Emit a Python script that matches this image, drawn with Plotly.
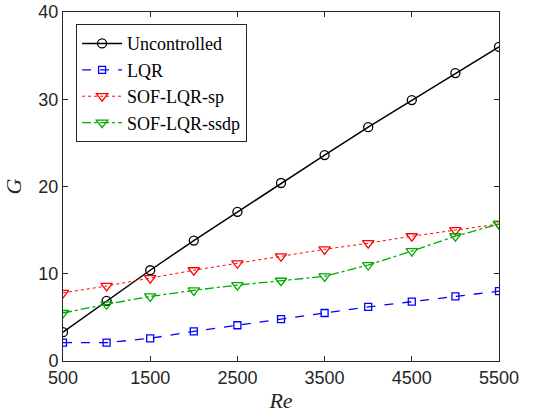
import plotly.graph_objects as go

re_vals = [500, 1000, 1500, 2000, 2500, 3000, 3500, 4000, 4500, 5000, 5500]
g_uncontrolled = [3.3, 6.9, 10.4, 13.8, 17.1, 20.4, 23.6, 26.8, 29.9, 33.0, 36.0]
g_lqr = [2.1, 2.1, 2.6, 3.4, 4.1, 4.8, 5.5, 6.2, 6.8, 7.4, 8.0]
g_sof_sp = [7.8, 8.6, 9.5, 10.4, 11.2, 12.0, 12.8, 13.5, 14.3, 15.0, 15.7]
g_sof_ssdp = [5.5, 6.5, 7.4, 8.1, 8.7, 9.2, 9.7, 11.0, 12.6, 14.3, 15.7]

xticks = [500, 1500, 2500, 3500, 4500, 5500]
yticks = [0, 10, 20, 30, 40]

fig = go.Figure()
fig.add_trace(go.Scatter(x=re_vals, y=g_uncontrolled, name="Uncontrolled", mode="lines+markers",
                         line=dict(color="black", width=1.5),
                         marker=dict(symbol="circle-open", size=9, color="black", line=dict(width=1.3))))
fig.add_trace(go.Scatter(x=re_vals, y=g_lqr, name="LQR", mode="lines+markers",
                         line=dict(color="#0000ff", width=1.3, dash="dash"),
                         marker=dict(symbol="square-open", size=7, color="#0000ff", line=dict(width=1.3))))
fig.add_trace(go.Scatter(x=re_vals, y=g_sof_sp, name="SOF-LQR-sp", mode="lines+markers",
                         line=dict(color="#ff0000", width=1, dash="dot"),
                         marker=dict(symbol="triangle-down-open", size=10, color="#ff0000", line=dict(width=1.3))))
fig.add_trace(go.Scatter(x=re_vals, y=g_sof_ssdp, name="SOF-LQR-ssdp", mode="lines+markers",
                         line=dict(color="#00aa00", width=1.3, dash="dashdot"),
                         marker=dict(symbol="triangle-down-open", size=10, color="#00aa00", line=dict(width=1.3))))

axis_common = dict(showgrid=False, zeroline=False, showline=True, linecolor="#262626", linewidth=1,
                   mirror="allticks", ticks="inside", ticklen=5, tickcolor="#262626",
                   tickfont=dict(family="Liberation Sans, Arial", size=18, color="#262626"))

fig.update_xaxes(range=[500, 5500], tickvals=xticks, ticktext=[str(v) for v in xticks],
                 title=dict(text="<i>Re</i>", font=dict(family="Liberation Serif, Times New Roman", size=22, color="#262626"), standoff=6),
                 **axis_common)
fig.update_yaxes(range=[0, 40], tickvals=yticks, ticktext=[str(v) for v in yticks],
                 title=dict(text="<i>G</i>", font=dict(family="Liberation Serif, Times New Roman", size=22, color="#262626"), standoff=10),
                 **axis_common)

fig.update_layout(
    width=549, height=419,
    margin=dict(l=63, r=50, t=12, b=58, autoexpand=False),
    paper_bgcolor="white", plot_bgcolor="white",
    showlegend=True,
    legend=dict(x=0.03, y=0.965, xanchor="left", yanchor="top",
                bgcolor="white", bordercolor="#262626", borderwidth=1,
                font=dict(family="Liberation Serif, Times New Roman", size=18, color="black"),
                tracegroupgap=0, itemwidth=40),
)

fig.write_html("out.html", config={"displayModeBar": False})
